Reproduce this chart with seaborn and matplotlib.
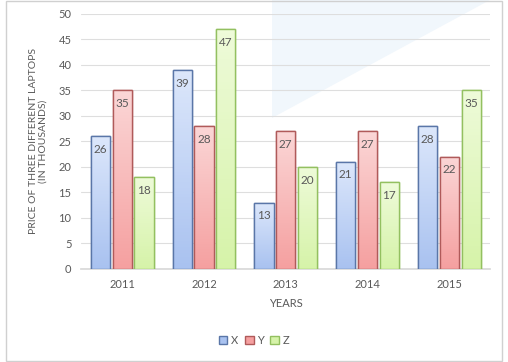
import matplotlib
matplotlib.use("Agg")
import matplotlib.pyplot as plt
import matplotlib.patches as mpatches
import numpy as np
import pandas as pd
import seaborn as sns

years = ["2011", "2012", "2013", "2014", "2015"]
x_vals = [26, 39, 13, 21, 28]
y_vals = [35, 28, 27, 27, 22]
z_vals = [18, 47, 20, 17, 35]

series = ["X", "Y", "Z"]
df = pd.DataFrame({
    "year": years * 3,
    "laptop": ["X"] * 5 + ["Y"] * 5 + ["Z"] * 5,
    "price": x_vals + y_vals + z_vals,
})

fills = {"X": "#a9c2f0", "Y": "#f5a0a0", "Z": "#d6f3a9"}
tops = {"X": "#dce7fb", "Y": "#fbd6d6", "Z": "#eefbd9"}
edges = {"X": "#5a76a8", "Y": "#b05a5a", "Z": "#93c060"}
txt = "#595959"

sns.set_theme(style="white")
plt.rcParams["font.family"] = ["Lato", "DejaVu Sans"]

fig = plt.figure(figsize=(5.08, 3.62), dpi=100)
ax = fig.add_axes([0.16, 0.257, 0.805, 0.705])

# faint watermark in the background
fig.patches.append(mpatches.Polygon([[272 / 508, 1.0], [490 / 508, 1.0], [272 / 508, 1 - 118 / 362]],
                                    closed=True, transform=fig.transFigure,
                                    facecolor="#f1f7fc", edgecolor="none", zorder=-1))
ax.patch.set_alpha(0)

sns.barplot(data=df, x="year", y="price", hue="laptop", order=years, hue_order=series,
            palette=fills, width=0.8, gap=0.12, edgecolor="#555555", linewidth=1,
            legend=False, ax=ax, zorder=3)

for cont, s in zip(ax.containers, series):
    grad = np.linspace(0, 1, 64).reshape(-1, 1)
    for bar in cont:
        bar.set_edgecolor(edges[s])
        x0, w, h = bar.get_x(), bar.get_width(), bar.get_height()
        cmap = matplotlib.colors.LinearSegmentedColormap.from_list(s, [fills[s], tops[s]])
        im = ax.imshow(grad, extent=[x0, x0 + w, 0, h], origin="lower", cmap=cmap,
                       aspect="auto", zorder=3.5)
        im.set_clip_path(bar)
        ax.text(x0 + w / 2, h - 1.5, str(int(h)), ha="center", va="top",
                fontsize=8.5, color=txt, zorder=5)
    for bar in cont:
        outline = mpatches.Rectangle((bar.get_x(), 0), bar.get_width(), bar.get_height(),
                                     fill=False, edgecolor=edges[s], linewidth=1, zorder=4)
        ax.add_patch(outline)

ax.set_xlim(-0.5, 4.5)
ax.set_ylim(0, 50)
ax.set_yticks(range(0, 51, 5))
ax.yaxis.grid(True, color="#dedede", linewidth=0.8, zorder=0)
ax.set_axisbelow(True)
for sp in ["top", "right", "left"]:
    ax.spines[sp].set_visible(False)
ax.spines["bottom"].set_color("#d9d9d9")
ax.tick_params(axis="both", length=0, labelsize=8, labelcolor=txt, pad=7)
ax.set_xlabel("YEARS", fontsize=8, color=txt, labelpad=6)
ax.set_ylabel("PRICE OF THREE DIFFERENT LAPTOPS\n(IN THOUSANDS)", fontsize=7.5,
              color=txt, labelpad=8, linespacing=1.1)

handles = [mpatches.Patch(facecolor=fills[s], edgecolor=edges[s], label=s) for s in series]
fig.legend(handles=handles, loc="center", bbox_to_anchor=(0.5, 0.06), ncol=3, frameon=False,
           fontsize=8, labelcolor=txt, handlelength=0.8, handleheight=0.8, handletextpad=0.3,
           columnspacing=0.6)

fig.patches.append(mpatches.Rectangle((6 / 508, 0.003), 496 / 508, 0.994, transform=fig.transFigure,
                                      fill=False, edgecolor="#d0d0d0", linewidth=1, zorder=0))

fig.savefig("out.png", dpi=100)
